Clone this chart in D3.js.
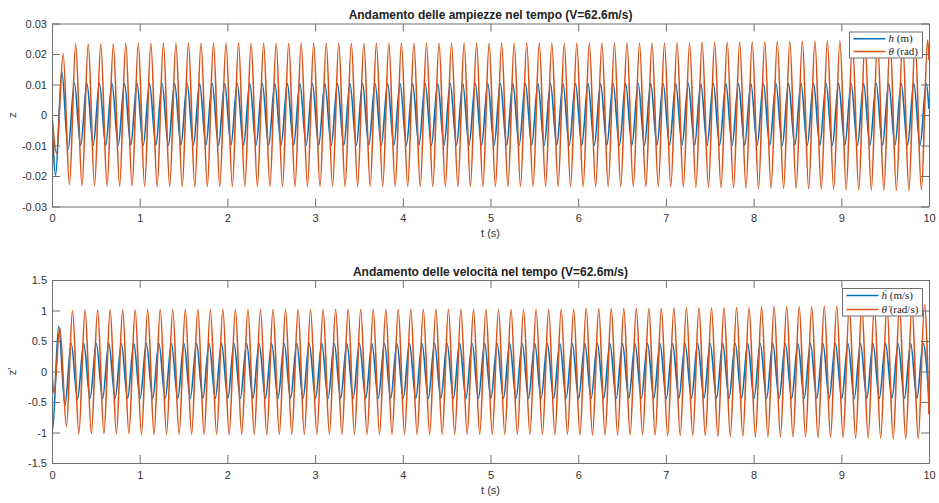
<!DOCTYPE html>
<html>
<head>
<meta charset="utf-8">
<script src="https://cdn.jsdelivr.net/npm/d3@7"></script>
<style>
  body { margin: 0; background: #fff; }
  svg text { font-family: "Liberation Sans", Arial, Helvetica, sans-serif; }
</style>
</head>
<body>
<svg id="fig" width="939" height="503"></svg>
<script>
// Time axis ticks (s)
const timeTicks = [0, 1, 2, 3, 4, 5, 6, 7, 8, 9, 10];
// Amplitude axis ticks
const ampTicks = [-0.03, -0.02, -0.01, 0, 0.01, 0.02, 0.03];
// Velocity axis ticks
const velTicks = [-1.5, -1, -0.5, 0, 0.5, 1, 1.5];

// Pitch angle theta (rad): turning points [t, value]
const thetaPts = [
[0,0],[0.052,-0.0125],[0.127,0.02],[0.199,-0.0228],[0.27,0.0232],[0.342,-0.0232],[0.413,0.0233],[0.485,-0.0232],[0.556,0.0233],[0.628,-0.0233],[0.699,0.0233],[0.771,-0.0233],[0.841,0.0234],[0.913,-0.0233],[0.984,0.0234],
[1.056,-0.0234],[1.127,0.0235],[1.199,-0.0234],[1.27,0.0235],[1.342,-0.0234],[1.413,0.0235],[1.485,-0.0234],[1.556,0.0235],[1.628,-0.0234],[1.699,0.0235],[1.771,-0.0234],[1.841,0.0235],[1.913,-0.0234],[1.984,0.0235],
[2.056,-0.0234],[2.127,0.0235],[2.199,-0.0234],[2.27,0.0235],[2.342,-0.0234],[2.413,0.0235],[2.485,-0.0234],[2.556,0.0235],[2.628,-0.0234],[2.699,0.0235],[2.771,-0.0234],[2.841,0.0235],[2.913,-0.0234],[2.984,0.0235],
[3.056,-0.0234],[3.127,0.0235],[3.199,-0.0234],[3.27,0.0235],[3.342,-0.0234],[3.413,0.0235],[3.485,-0.0234],[3.556,0.0235],[3.628,-0.0234],[3.699,0.0235],[3.771,-0.0234],[3.841,0.0235],[3.913,-0.0234],[3.984,0.0235],
[4.056,-0.0234],[4.127,0.0235],[4.199,-0.0234],[4.27,0.0235],[4.342,-0.0234],[4.413,0.0235],[4.485,-0.0234],[4.556,0.0235],[4.628,-0.0234],[4.699,0.0235],[4.771,-0.0234],[4.841,0.0235],[4.913,-0.0234],[4.984,0.0235],
[5.056,-0.0234],[5.127,0.0235],[5.199,-0.0234],[5.27,0.0235],[5.342,-0.0234],[5.413,0.0235],[5.485,-0.0234],[5.556,0.0235],[5.628,-0.0234],[5.699,0.0235],[5.771,-0.0234],[5.841,0.0235],[5.913,-0.0234],[5.984,0.0235],
[6.056,-0.0235],[6.127,0.0236],[6.199,-0.0235],[6.27,0.0236],[6.342,-0.0235],[6.413,0.0236],[6.485,-0.0235],[6.556,0.0236],[6.628,-0.0235],[6.699,0.0236],[6.771,-0.0235],[6.841,0.0236],[6.913,-0.0235],[6.984,0.0236],
[7.056,-0.0236],[7.127,0.0237],[7.199,-0.0236],[7.27,0.0237],[7.342,-0.0237],[7.413,0.0238],[7.485,-0.0237],[7.556,0.0238],[7.628,-0.0238],[7.699,0.0238],[7.771,-0.0238],[7.841,0.0239],[7.913,-0.0239],[7.984,0.0239],
[8.056,-0.024],[8.127,0.024],[8.199,-0.024],[8.27,0.0241],[8.342,-0.0241],[8.413,0.0241],[8.485,-0.0241],[8.556,0.0242],[8.628,-0.0242],[8.699,0.0242],[8.771,-0.0243],[8.841,0.0243],[8.913,-0.0243],[8.984,0.0243],
[9.056,-0.0244],[9.127,0.0244],[9.199,-0.0245],[9.27,0.0244],[9.342,-0.0246],[9.413,0.0245],[9.485,-0.0247],[9.556,0.0245],[9.628,-0.0247],[9.699,0.0246],[9.771,-0.0247],[9.841,0.0246],[9.913,-0.0246],[9.984,0.0246],
[10,0.018]
];

// Plunge h (m): turning points [t, value]
const hPts = [
[0,0],[0.041,-0.0197],[0.112,0.0142],[0.184,-0.0112],[0.255,0.0104],[0.327,-0.01],[0.398,0.0103],[0.47,-0.0099],[0.541,0.0103],[0.612,-0.0099],[0.684,0.0103],[0.755,-0.0099],[0.827,0.0103],[0.898,-0.0099],[0.969,0.0103],
[1.041,-0.0099],[1.112,0.0103],[1.184,-0.0099],[1.255,0.0103],[1.327,-0.0099],[1.398,0.0103],[1.47,-0.0099],[1.541,0.0103],[1.612,-0.0099],[1.684,0.0103],[1.755,-0.0099],[1.827,0.0103],[1.898,-0.0099],[1.969,0.0103],
[2.041,-0.0099],[2.112,0.0103],[2.184,-0.0099],[2.255,0.0103],[2.327,-0.0099],[2.398,0.0103],[2.47,-0.0099],[2.541,0.0103],[2.612,-0.0099],[2.684,0.0103],[2.755,-0.0099],[2.827,0.0103],[2.898,-0.0099],[2.969,0.0103],
[3.041,-0.0099],[3.112,0.0103],[3.184,-0.0099],[3.255,0.0103],[3.327,-0.0099],[3.398,0.0103],[3.47,-0.0099],[3.541,0.0103],[3.612,-0.0099],[3.684,0.0103],[3.755,-0.0099],[3.827,0.0103],[3.898,-0.0099],[3.969,0.0103],
[4.041,-0.0099],[4.112,0.0103],[4.184,-0.0099],[4.255,0.0103],[4.327,-0.0099],[4.398,0.0103],[4.47,-0.0099],[4.541,0.0103],[4.612,-0.0099],[4.684,0.0103],[4.755,-0.0099],[4.827,0.0103],[4.898,-0.0099],[4.969,0.0103],
[5.041,-0.0099],[5.112,0.0103],[5.184,-0.0099],[5.255,0.0103],[5.327,-0.0099],[5.398,0.0103],[5.47,-0.0099],[5.541,0.0103],[5.612,-0.0099],[5.684,0.0103],[5.755,-0.0099],[5.827,0.0103],[5.898,-0.0099],[5.969,0.0103],
[6.041,-0.0099],[6.112,0.0103],[6.184,-0.0099],[6.255,0.0103],[6.327,-0.0099],[6.398,0.0103],[6.47,-0.0099],[6.541,0.0103],[6.612,-0.0099],[6.684,0.0103],[6.755,-0.0099],[6.827,0.0103],[6.898,-0.0099],[6.969,0.0103],
[7.041,-0.0099],[7.112,0.0103],[7.184,-0.0099],[7.255,0.0103],[7.327,-0.0099],[7.398,0.0103],[7.47,-0.0099],[7.541,0.0103],[7.612,-0.0099],[7.684,0.0103],[7.755,-0.0099],[7.827,0.0103],[7.898,-0.0099],[7.969,0.0103],
[8.041,-0.0099],[8.112,0.0103],[8.184,-0.0099],[8.255,0.0103],[8.327,-0.0099],[8.398,0.0103],[8.47,-0.0099],[8.541,0.0103],[8.612,-0.0099],[8.684,0.0103],[8.755,-0.0099],[8.827,0.0103],[8.898,-0.0099],[8.969,0.0103],
[9.041,-0.0099],[9.112,0.0103],[9.184,-0.0099],[9.255,0.0103],[9.327,-0.0099],[9.398,0.0103],[9.47,-0.0099],[9.541,0.0103],[9.612,-0.0099],[9.684,0.0103],[9.755,-0.0099],[9.827,0.0103],[9.898,-0.0099],[9.969,0.0103],
[10,0.002]
];

// Pitch rate (rad/s): turning points [t, value]
const dthetaPts = [
[0,0],[0.024,-0.36],[0.089,0.72],[0.165,-0.9],[0.234,1],[0.306,-1.02],[0.377,1.01],[0.449,-1.02],[0.52,1.01],[0.592,-1.02],[0.663,1.01],[0.734,-1.02],[0.806,1.01],[0.877,-1.02],[0.948,1.01],
[1.02,-1.03],[1.091,1.02],[1.163,-1.03],[1.234,1.02],[1.306,-1.03],[1.377,1.02],[1.449,-1.03],[1.52,1.02],[1.592,-1.03],[1.663,1.02],[1.734,-1.03],[1.806,1.02],[1.877,-1.03],[1.948,1.02],
[2.02,-1.03],[2.091,1.02],[2.163,-1.03],[2.234,1.02],[2.306,-1.03],[2.377,1.02],[2.449,-1.03],[2.52,1.02],[2.592,-1.03],[2.663,1.02],[2.734,-1.03],[2.806,1.02],[2.877,-1.03],[2.948,1.02],
[3.02,-1.03],[3.091,1.02],[3.163,-1.03],[3.234,1.02],[3.306,-1.03],[3.377,1.02],[3.449,-1.03],[3.52,1.02],[3.592,-1.03],[3.663,1.02],[3.734,-1.03],[3.806,1.02],[3.877,-1.03],[3.948,1.02],
[4.02,-1.03],[4.091,1.02],[4.163,-1.03],[4.234,1.02],[4.306,-1.03],[4.377,1.02],[4.449,-1.03],[4.52,1.02],[4.592,-1.03],[4.663,1.02],[4.734,-1.03],[4.806,1.02],[4.877,-1.03],[4.948,1.02],
[5.02,-1.03],[5.091,1.02],[5.163,-1.03],[5.234,1.02],[5.306,-1.03],[5.377,1.02],[5.449,-1.03],[5.52,1.02],[5.592,-1.03],[5.663,1.02],[5.734,-1.03],[5.806,1.02],[5.877,-1.03],[5.948,1.02],
[6.02,-1.04],[6.091,1.03],[6.163,-1.04],[6.234,1.03],[6.306,-1.04],[6.377,1.03],[6.449,-1.04],[6.52,1.03],[6.592,-1.04],[6.663,1.03],[6.734,-1.04],[6.806,1.03],[6.877,-1.04],[6.948,1.03],
[7.02,-1.05],[7.091,1.04],[7.163,-1.05],[7.234,1.04],[7.306,-1.05],[7.377,1.04],[7.449,-1.05],[7.52,1.04],[7.592,-1.06],[7.663,1.05],[7.734,-1.06],[7.806,1.05],[7.877,-1.06],[7.948,1.05],
[8.02,-1.07],[8.091,1.06],[8.163,-1.07],[8.234,1.06],[8.306,-1.07],[8.377,1.06],[8.449,-1.07],[8.52,1.06],[8.592,-1.07],[8.663,1.06],[8.734,-1.08],[8.806,1.07],[8.877,-1.08],[8.948,1.07],
[9.02,-1.08],[9.091,1.07],[9.163,-1.09],[9.234,1.08],[9.306,-1.09],[9.377,1.08],[9.449,-1.09],[9.52,1.08],[9.592,-1.1],[9.663,1.08],[9.734,-1.1],[9.806,1.09],[9.877,-1.1],[9.948,1.09],
[10,-0.7]
];

// Plunge rate (m/s): turning points [t, value]
const dhPts = [
[0,-0.4],[0.005,-0.98],[0.076,0.74],[0.148,-0.55],[0.219,0.46],[0.291,-0.45],[0.362,0.46],[0.434,-0.44],[0.505,0.46],[0.577,-0.44],[0.648,0.46],[0.72,-0.44],[0.791,0.46],[0.862,-0.44],[0.933,0.46],
[1.005,-0.44],[1.076,0.46],[1.148,-0.44],[1.219,0.46],[1.291,-0.44],[1.362,0.46],[1.434,-0.44],[1.505,0.46],[1.577,-0.44],[1.648,0.46],[1.72,-0.44],[1.791,0.46],[1.862,-0.44],[1.933,0.46],
[2.005,-0.44],[2.076,0.46],[2.148,-0.44],[2.219,0.46],[2.291,-0.44],[2.362,0.46],[2.434,-0.44],[2.505,0.46],[2.577,-0.44],[2.648,0.46],[2.72,-0.44],[2.791,0.46],[2.862,-0.44],[2.933,0.46],
[3.005,-0.44],[3.076,0.46],[3.148,-0.44],[3.219,0.46],[3.291,-0.44],[3.362,0.46],[3.434,-0.44],[3.505,0.46],[3.577,-0.44],[3.648,0.46],[3.72,-0.44],[3.791,0.46],[3.862,-0.44],[3.933,0.46],
[4.005,-0.44],[4.076,0.46],[4.148,-0.44],[4.219,0.46],[4.291,-0.44],[4.362,0.46],[4.434,-0.44],[4.505,0.46],[4.577,-0.44],[4.648,0.46],[4.72,-0.44],[4.791,0.46],[4.862,-0.44],[4.933,0.46],
[5.005,-0.44],[5.076,0.46],[5.148,-0.44],[5.219,0.46],[5.291,-0.44],[5.362,0.46],[5.434,-0.44],[5.505,0.46],[5.577,-0.44],[5.648,0.46],[5.72,-0.44],[5.791,0.46],[5.862,-0.44],[5.933,0.46],
[6.005,-0.44],[6.076,0.46],[6.148,-0.44],[6.219,0.46],[6.291,-0.44],[6.362,0.46],[6.434,-0.44],[6.505,0.46],[6.577,-0.44],[6.648,0.46],[6.72,-0.44],[6.791,0.46],[6.862,-0.44],[6.933,0.46],
[7.005,-0.44],[7.076,0.46],[7.148,-0.44],[7.219,0.46],[7.291,-0.44],[7.362,0.46],[7.434,-0.44],[7.505,0.46],[7.577,-0.44],[7.648,0.46],[7.72,-0.44],[7.791,0.46],[7.862,-0.44],[7.933,0.46],
[8.005,-0.44],[8.076,0.46],[8.148,-0.44],[8.219,0.46],[8.291,-0.44],[8.362,0.46],[8.434,-0.44],[8.505,0.46],[8.577,-0.44],[8.648,0.46],[8.72,-0.44],[8.791,0.46],[8.862,-0.44],[8.933,0.46],
[9.005,-0.44],[9.076,0.46],[9.148,-0.44],[9.219,0.46],[9.291,-0.44],[9.362,0.46],[9.434,-0.44],[9.505,0.46],[9.577,-0.44],[9.648,0.46],[9.72,-0.44],[9.791,0.46],[9.862,-0.44],[9.933,0.46],
[10,-0.43]
];

const COL_BLUE = "#0072BD";
const COL_ORANGE = "#D95319";
const AXIS_COL = "#6f6f6f";
const TEXT_COL = "#333";

const svg = d3.select("#fig");
const X0 = 52, X1 = 929;

function panel(opt) {
  const x = d3.scaleLinear().domain([0, 10]).range([X0, X1]);
  const y = d3.scaleLinear().domain(opt.yDomain).range([opt.bottom, opt.top]);
  const g = svg.append("g");

  const clipId = "clip-" + opt.id;
  svg.append("clipPath").attr("id", clipId)
    .append("rect").attr("x", X0).attr("y", opt.top)
    .attr("width", X1 - X0).attr("height", opt.bottom - opt.top);

  const line = d3.line()
    .x(d => x(d[0])).y(d => y(d[1]))
    .curve(d3.curveMonotoneX);

  const lines = g.append("g").attr("clip-path", `url(#${clipId})`);
  opt.series.forEach(s => {
    lines.append("path").datum(s.pts)
      .attr("fill", "none").attr("stroke", s.color)
      .attr("stroke-width", 1.6).attr("stroke-linejoin", "round")
      .attr("d", line);
  });

  // axes (ticks point inward, box on all four sides)
  const styleAxis = a => {
    a.selectAll("path.domain").attr("stroke", AXIS_COL).attr("stroke-width", 1);
    a.selectAll(".tick line").attr("stroke", AXIS_COL).attr("stroke-width", 1);
    a.selectAll(".tick text").attr("fill", TEXT_COL)
      .style("font-size", "11px").style("font-family", '"Liberation Sans", Arial, sans-serif');
  };
  const fmt = d => String(d);
  g.append("g").attr("transform", `translate(0,${opt.bottom})`)
    .call(d3.axisBottom(x).tickValues(timeTicks).tickFormat(fmt).tickSize(-8).tickSizeOuter(0).tickPadding(8))
    .call(styleAxis);
  g.append("g").attr("transform", `translate(0,${opt.top})`)
    .call(d3.axisTop(x).tickValues(timeTicks).tickFormat("").tickSize(-8).tickSizeOuter(0))
    .call(styleAxis);
  g.append("g").attr("transform", `translate(${X0},0)`)
    .call(d3.axisLeft(y).tickValues(opt.yTicks).tickFormat(fmt).tickSize(-8).tickSizeOuter(0).tickPadding(5))
    .call(styleAxis);
  g.append("g").attr("transform", `translate(${X1},0)`)
    .call(d3.axisRight(y).tickValues(opt.yTicks).tickFormat("").tickSize(-8).tickSizeOuter(0))
    .call(styleAxis);

  // title
  g.append("text").attr("x", (X0 + X1) / 2).attr("y", opt.top - 4.5)
    .attr("text-anchor", "middle").attr("fill", "#222")
    .style("font-size", "12px").style("font-weight", "bold")
    .text(opt.title);
  // x label
  g.append("text").attr("x", (X0 + X1) / 2).attr("y", opt.bottom + 30.5)
    .attr("text-anchor", "middle").attr("fill", TEXT_COL)
    .style("font-size", "11px").text("t (s)");
  // y label
  g.append("text")
    .attr("transform", `translate(16,${(opt.top + opt.bottom) / 2}) rotate(-90)`)
    .attr("text-anchor", "middle").attr("fill", TEXT_COL)
    .style("font-size", "11px").text(opt.yLabel);

  // legend
  const L = opt.legend;
  const lg = g.append("g");
  lg.append("rect").attr("x", L.x).attr("y", L.y).attr("width", L.w).attr("height", L.h)
    .attr("fill", "#fff").attr("stroke", AXIS_COL).attr("stroke-width", 1);
  L.items.forEach((it, i) => {
    const cy = L.y + L.rowStart + i * L.rowGap;
    lg.append("line").attr("x1", L.x + 4).attr("x2", L.x + 36)
      .attr("y1", cy).attr("y2", cy)
      .attr("stroke", it.color).attr("stroke-width", 1.6);
    const t = lg.append("text").attr("x", L.x + 39).attr("y", cy + 3.5)
      .attr("fill", "#222")
      .style("font-family", '"Liberation Serif", "DejaVu Serif", serif')
      .style("font-size", "11px");
    t.append("tspan").style("font-style", "italic").text(it.sym);
    t.append("tspan").text(" " + it.unit);
  });
}

panel({
  id: "amp",
  top: 23.5, bottom: 206.5,
  yDomain: [-0.03, 0.03], yTicks: ampTicks,
  title: "Andamento delle ampiezze nel tempo (V=62.6m/s)",
  yLabel: "z",
  series: [
    { pts: hPts, color: COL_BLUE },
    { pts: thetaPts, color: COL_ORANGE }
  ],
  legend: {
    x: 849.5, y: 32, w: 73, h: 26, rowStart: 6.8, rowGap: 12.7,
    items: [
      { sym: "h", unit: "(m)", color: COL_BLUE },
      { sym: "\u03B8", unit: "(rad)", color: COL_ORANGE }
    ]
  }
});

panel({
  id: "vel",
  top: 280, bottom: 463,
  yDomain: [-1.5, 1.5], yTicks: velTicks,
  title: "Andamento delle velocit\u00E0 nel tempo (V=62.6m/s)",
  yLabel: "z'",
  series: [
    { pts: dhPts, color: COL_BLUE },
    { pts: dthetaPts, color: COL_ORANGE }
  ],
  legend: {
    x: 842.5, y: 288.5, w: 80, h: 27.5, rowStart: 7, rowGap: 14,
    items: [
      { sym: "h\u0307", unit: "(m/s)", color: COL_BLUE },
      { sym: "\u03B8\u0307", unit: "(rad/s)", color: COL_ORANGE }
    ]
  }
});
</script>
</body>
</html>
